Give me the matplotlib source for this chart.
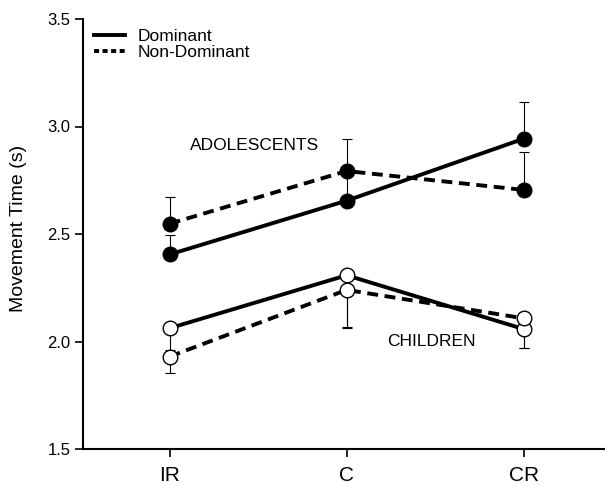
import matplotlib
matplotlib.use("Agg")
import matplotlib.pyplot as plt
from matplotlib.lines import Line2D

plt.rcParams['font.family'] = ['Liberation Sans', 'DejaVu Sans']

conditions = ["IR", "C", "CR"]
adol_dom = [2.405, 2.655, 2.943]
adol_dom_err = [0.09, 0.13, 0.17]
adol_nd = [2.548, 2.793, 2.705]
adol_nd_err = [0.125, 0.147, 0.178]
child_dom = [2.062, 2.308, 2.058]
child_dom_err = [0.10, 0.24, 0.09]
child_nd = [1.930, 2.240, 2.108]
child_nd_err = [0.077, 0.175, 0.14]
yticks = [1.5, 2.0, 2.5, 3.0, 3.5]

fig = plt.figure(figsize=(6.05, 4.87), dpi=100)
ax = fig.add_axes([83/605, 38/487, 1 - 83/605, (449-19)/487])
x = list(range(len(conditions)))

lw = 2.8
dash = (0, (2.8, 1.7))
ms = 10.5

ekw = dict(fmt='none', ecolor='black', elinewidth=0.8, capsize=3.5, capthick=0.8, zorder=1)
# error bars (adolescents up, children down)
ax.errorbar(x, adol_dom, yerr=[[0]*3, adol_dom_err], **ekw)
ax.errorbar(x, adol_nd, yerr=[[0]*3, adol_nd_err], **ekw)
ax.errorbar(x, child_dom, yerr=[child_dom_err, [0]*3], **ekw)
ax.errorbar(x, child_nd, yerr=[child_nd_err, [0]*3], **ekw)

ax.plot(x, adol_dom, color='black', lw=lw, ls='-', marker='o', ms=ms, mfc='black', mec='black', zorder=3)
ax.plot(x, adol_nd, color='black', lw=lw, ls=dash, marker='o', ms=ms, mfc='black', mec='black', zorder=3)
ax.plot(x, child_dom, color='black', lw=lw, ls='-', marker='o', ms=ms, mfc='white', mec='black', mew=1.0, zorder=3)
ax.plot(x, child_nd, color='black', lw=lw, ls=dash, marker='o', ms=ms, mfc='white', mec='black', mew=1.0, zorder=3)

ax.text(0.48, 2.91, "ADOLESCENTS", ha='center', va='center', fontsize=12.5)
ax.text(1.48, 2.0, "CHILDREN", ha='center', va='center', fontsize=12.5)

handles = [Line2D([], [], color='black', lw=lw, ls='-'),
           Line2D([], [], color='black', lw=lw, ls=(0, (1.3, 0.9)))]
ax.legend(handles, ["Dominant", "Non-Dominant"], loc='upper left', bbox_to_anchor=(0.004, 0.998),
          frameon=False, fontsize=12.5, handlelength=1.8, handletextpad=0.75,
          labelspacing=0.05, borderaxespad=0.0, borderpad=0.5)

ax.set_xlim(-0.49, 2.46)
ax.set_ylim(1.5, 3.5)
ax.set_yticks(yticks)
ax.set_yticklabels([f"{v:.1f}" for v in yticks], fontsize=12)
ax.set_xticks(x)
ax.set_xticklabels(conditions, fontsize=15)
ax.tick_params(axis='x', length=6, width=1.2, pad=6)
ax.tick_params(axis='y', length=6, width=1.2, pad=3)
ax.set_ylabel("Movement Time (s)", fontsize=14)
ax.yaxis.set_label_coords(-0.108, 0.514)
ax.spines['top'].set_visible(False)
ax.spines['right'].set_visible(False)
ax.spines['left'].set_linewidth(1.5)
ax.spines['bottom'].set_linewidth(1.5)

fig.savefig("out.png", dpi=100)
